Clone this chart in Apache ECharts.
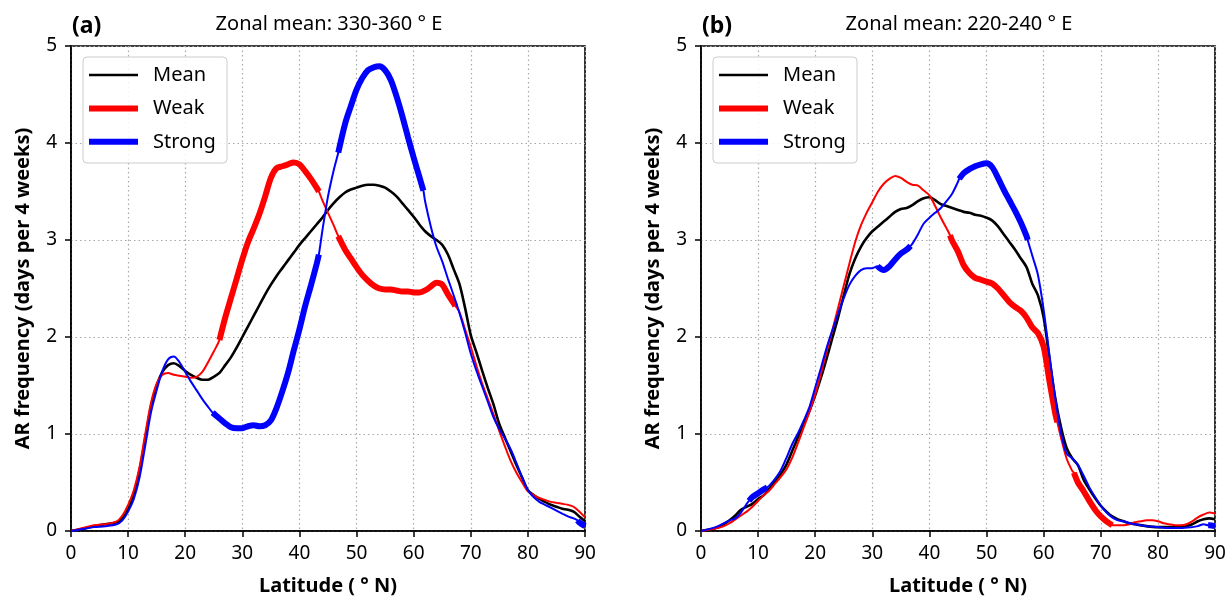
<!DOCTYPE html>
<html>
<head>
<meta charset="utf-8">
<script src="https://cdn.jsdelivr.net/npm/echarts@6/dist/echarts.min.js"></script>
<style>
html,body{margin:0;padding:0;background:#fff;}
#chart{width:1232px;height:600px;}
</style>
</head>
<body>
<div id="chart"></div>
<script>
// ---------- DATA (latitude °N, AR frequency in days per 4 weeks) ----------
const panelTitles = ['Zonal mean: 330-360 ° E', 'Zonal mean: 220-240 ° E'];
const panelLetters = ['(a)', '(b)'];
const seriesNames = ['Mean', 'Weak', 'Strong'];

// Panel (a) 330-360°E
const aMean = [[0,0],[2,0.02],[4,0.05],[6,0.07],[8,0.09],[9,0.13],[10,0.22],[11,0.38],[12,0.62],[13,0.95],[14,1.28],[15,1.5],[16,1.64],[17,1.71],[18,1.73],[19,1.70],[20,1.65],[21,1.61],[22,1.58],[23,1.56],[24,1.56],[25,1.59],[26,1.63],[27,1.71],[28,1.79],[29,1.89],[30,2.0],[31,2.11],[32,2.22],[33,2.33],[34,2.44],[35,2.54],[36,2.63],[37,2.71],[38,2.79],[39,2.87],[40,2.95],[41,3.02],[42,3.09],[43,3.16],[44,3.23],[45,3.31],[46,3.38],[47,3.44],[48,3.49],[49,3.52],[50,3.54],[51,3.56],[52,3.57],[53,3.57],[54,3.56],[55,3.54],[56,3.5],[57,3.45],[58,3.38],[59,3.31],[60,3.24],[61,3.16],[62,3.09],[63,3.04],[64,3.0],[65,2.95],[66,2.85],[67,2.7],[68,2.55],[69,2.3],[70,2.02],[71,1.84],[72,1.65],[73,1.47],[74,1.3],[75,1.1],[76,0.96],[77,0.82],[78,0.68],[79,0.55],[80,0.42],[81,0.37],[82,0.33],[83,0.3],[84,0.27],[85,0.25],[86,0.23],[87,0.22],[88,0.2],[89,0.15],[90,0.1]];
const aWeak = [[0,0],[2,0.03],[4,0.06],[6,0.07],[8,0.1],[9,0.16],[10,0.27],[11,0.42],[12,0.66],[13,1.0],[14,1.32],[15,1.52],[16,1.61],[17,1.63],[18,1.61],[19,1.6],[20,1.59],[21,1.58],[22,1.59],[23,1.64],[24,1.74],[25,1.85],[26,1.97],[27,2.2],[28,2.4],[29,2.6],[30,2.8],[31,2.98],[32,3.12],[33,3.27],[34,3.45],[35,3.64],[36,3.74],[37,3.76],[38,3.78],[39,3.8],[40,3.78],[41,3.71],[42,3.63],[43,3.54],[43.4,3.5],[44,3.41],[45,3.28],[46,3.15],[46.8,3.04],[48,2.9],[49,2.81],[50,2.72],[51,2.64],[52,2.58],[53,2.53],[54,2.5],[55,2.49],[56,2.49],[57,2.48],[58,2.47],[59,2.47],[60,2.46],[61,2.46],[62,2.48],[63,2.52],[64,2.56],[65,2.54],[66,2.44],[67,2.35],[67.3,2.32],[68,2.26],[69,2.08],[70,1.9],[71,1.7],[72,1.52],[73,1.36],[74,1.2],[75,1.03],[76,0.87],[77,0.72],[78,0.6],[79,0.5],[80,0.41],[81,0.37],[82,0.34],[83,0.32],[84,0.3],[85,0.29],[86,0.28],[87,0.27],[88,0.25],[89,0.2],[90,0.14]];
const aStrong = [[0,0],[2,0.02],[4,0.04],[6,0.05],[8,0.07],[9,0.11],[10,0.2],[11,0.33],[12,0.55],[13,0.88],[14,1.22],[15,1.45],[16,1.65],[17,1.77],[18,1.8],[19,1.74],[20,1.64],[21,1.54],[22,1.45],[23,1.36],[24,1.28],[24.8,1.22],[26,1.16],[27,1.11],[28,1.07],[29,1.06],[30,1.06],[31,1.08],[32,1.09],[33,1.08],[34,1.09],[35,1.14],[36,1.27],[37,1.44],[38,1.63],[39,1.86],[40,2.08],[41,2.32],[42,2.53],[43,2.75],[43.4,2.85],[44,3.09],[45,3.45],[46,3.72],[46.8,3.9],[48,4.2],[49,4.38],[50,4.55],[51,4.67],[52,4.75],[53,4.78],[54,4.79],[55,4.75],[56,4.65],[57,4.48],[58,4.28],[59,4.06],[60,3.85],[61,3.65],[61.7,3.51],[62,3.4],[63,3.14],[64,2.93],[65,2.78],[66,2.6],[67,2.43],[68,2.25],[69,2.05],[70,1.83],[71,1.65],[72,1.49],[73,1.33],[74,1.17],[75,1.05],[76,0.95],[77,0.84],[78,0.7],[79,0.55],[80,0.42],[81,0.35],[82,0.3],[83,0.27],[84,0.24],[85,0.21],[86,0.18],[87,0.15],[88,0.13],[88.7,0.11],[89,0.09],[90,0.05]];
const aWeakSig = [[26,43.4],[46.8,67.3]];
const aStrongSig = [[24.8,43.4],[46.8,61.7],[88.7,90]];

// Panel (b) 220-240°E
const bMean = [[0,0],[2,0.02],[3,0.04],[4,0.07],[5,0.11],[6,0.16],[7,0.22],[8,0.25],[9,0.28],[10,0.33],[11,0.37],[12,0.44],[13,0.51],[14,0.59],[15,0.69],[16,0.83],[17,0.97],[18,1.1],[19,1.24],[20,1.4],[21,1.58],[22,1.78],[23,1.99],[24,2.2],[25,2.43],[26,2.65],[27,2.81],[28,2.93],[29,3.02],[30,3.09],[31,3.14],[32,3.19],[33,3.24],[34,3.29],[35,3.32],[36,3.33],[37,3.36],[38,3.4],[39,3.43],[40,3.44],[41,3.41],[42,3.37],[43,3.35],[44,3.33],[45,3.31],[46,3.29],[47,3.28],[48,3.26],[49,3.25],[50,3.23],[51,3.2],[52,3.14],[53,3.06],[54,2.98],[55,2.9],[56,2.81],[57,2.72],[58,2.55],[59,2.43],[60,2.2],[61,1.78],[62,1.38],[63,1.08],[64,0.86],[65,0.75],[66,0.68],[67,0.53],[68,0.43],[69,0.34],[70,0.26],[71,0.2],[72,0.15],[73,0.12],[74,0.1],[75,0.08],[76,0.07],[78,0.05],[80,0.04],[82,0.04],[84,0.04],[86,0.07],[87,0.1],[88,0.12],[89,0.13],[90,0.12]];
const bWeak = [[0,0],[2,0.02],[3,0.03],[4,0.05],[5,0.08],[6,0.12],[7,0.16],[8,0.2],[9,0.25],[10,0.31],[11,0.37],[12,0.42],[13,0.49],[14,0.56],[15,0.64],[16,0.76],[17,0.91],[18,1.07],[19,1.23],[20,1.41],[21,1.62],[22,1.85],[23,2.07],[24,2.3],[25,2.53],[26,2.76],[27,2.98],[28,3.15],[29,3.28],[30,3.39],[31,3.5],[32,3.58],[33,3.63],[34,3.66],[35,3.64],[36,3.6],[37,3.57],[38,3.56],[39,3.51],[40,3.46],[41,3.35],[42,3.23],[43,3.12],[43.6,3.05],[44,2.99],[45,2.88],[46,2.74],[47,2.66],[48,2.61],[49,2.59],[50,2.57],[51,2.55],[52,2.5],[53,2.43],[54,2.36],[55,2.31],[56,2.27],[57,2.2],[58,2.1],[59,2.04],[60,1.9],[61,1.55],[62,1.22],[62.4,1.12],[63,0.97],[64,0.75],[65,0.62],[65.3,0.6],[66,0.5],[67,0.41],[68,0.31],[69,0.22],[70,0.15],[71,0.1],[72,0.06],[73,0.06],[74,0.06],[75,0.07],[76,0.09],[77,0.1],[78,0.11],[79,0.11],[80,0.1],[81,0.08],[82,0.07],[83,0.06],[84,0.06],[85,0.07],[86,0.1],[87,0.14],[88,0.17],[89,0.19],[90,0.18]];
const bStrong = [[0,0],[2,0.03],[3,0.05],[4,0.08],[5,0.11],[6,0.13],[7,0.19],[8,0.28],[8.4,0.31],[9,0.35],[10,0.39],[11,0.43],[11.6,0.45],[12,0.47],[13,0.54],[14,0.63],[15,0.76],[16,0.9],[17,1.01],[18,1.14],[19,1.28],[20,1.48],[21,1.68],[22,1.89],[23,2.07],[24,2.24],[25,2.4],[26,2.54],[27,2.63],[28,2.69],[29,2.71],[30,2.71],[30.9,2.73],[32,2.69],[33,2.73],[34,2.8],[35,2.86],[36,2.9],[36.7,2.94],[37,2.96],[38,3.06],[39,3.17],[40,3.23],[41,3.28],[42,3.33],[43,3.4],[44,3.48],[45,3.6],[45.2,3.63],[46,3.69],[47,3.73],[48,3.76],[49,3.78],[50,3.79],[51,3.75],[52,3.64],[53,3.52],[54,3.41],[55,3.3],[56,3.18],[57,3.04],[57.2,3.0],[58,2.84],[59,2.64],[60,2.28],[61,1.82],[62,1.38],[63,1.02],[64,0.8],[65,0.75],[66,0.68],[67,0.57],[68,0.45],[69,0.35],[70,0.26],[71,0.19],[72,0.14],[73,0.11],[74,0.1],[75,0.08],[76,0.07],[77,0.06],[78,0.05],[80,0.04],[82,0.03],[84,0.03],[86,0.04],[87,0.05],[88,0.07],[88.8,0.06],[89,0.06],[90,0.05]];
const bWeakSig = [[43.6,62.4],[65.3,72]];
const bStrongSig = [[8.4,11.6],[30.9,36.7],[45.2,57.2],[88.8,90]];

// ---------- CHART ----------
const FONT = '"Noto Sans", "DejaVu Sans", sans-serif';
const COLORS = {Mean: '#000000', Weak: '#ff0000', Strong: '#0000ff'};
const WIDTHS = {Mean: 2.6, Weak: 6, Strong: 6};
const chart = echarts.init(document.getElementById('chart'), null, {renderer: 'canvas'});

function sig(data, ranges) {
  return data.map(([x, y]) => ranges.some(([a, b]) => x >= a - 1e-9 && x <= b + 1e-9) ? [x, y] : [x, '-']);
}
function line(name, data, color, width, idx, z) {
  return {
    type: 'line', name: name, data: data, xAxisIndex: idx, yAxisIndex: idx,
    symbol: 'none', smooth: 0.3, connectNulls: false, z: z,
    lineStyle: {color: color, width: width}, itemStyle: {color: color},
    emphasis: {disabled: true}, silent: true, animation: false
  };
}

const lefts = [71, 701];
const W = 514, TOP = 46, H = 485;

const grids = lefts.map(l => ({left: l, top: TOP, width: W, height: H, show: true,
  borderColor: '#000', borderWidth: 1.6, backgroundColor: 'transparent', containLabel: false}));

const gridLine = {show: true, lineStyle: {color: '#a8a8a8', width: 1.2, type: [1.5, 3]}};
const xAxes = lefts.map((l, i) => ({
  type: 'value', gridIndex: i, min: 0, max: 90, interval: 10,
  axisLine: {show: true, lineStyle: {color: '#000', width: 1.6}},
  axisTick: {show: true, inside: false, length: 6, lineStyle: {color: '#000', width: 1.5}},
  axisLabel: {color: '#000', fontSize: 19, fontFamily: FONT, margin: 13},
  splitLine: gridLine
}));
const yAxes = lefts.map((l, i) => ({
  type: 'value', gridIndex: i, min: 0, max: 5, interval: 1,
  axisLine: {show: true, lineStyle: {color: '#000', width: 1.6}},
  axisTick: {show: true, inside: false, length: 6, lineStyle: {color: '#000', width: 1.5}},
  axisLabel: {color: '#000', fontSize: 19, fontFamily: FONT, margin: 14},
  splitLine: gridLine
}));

const panels = [
  {mean: aMean, weak: aWeak, strong: aStrong, weakSig: aWeakSig, strongSig: aStrongSig},
  {mean: bMean, weak: bWeak, strong: bStrong, weakSig: bWeakSig, strongSig: bStrongSig}
];
const series = [];
panels.forEach((p, i) => {
  series.push(line('Mean', p.mean, COLORS.Mean, WIDTHS.Mean, i, 3));
  series.push(line('Weak (all)', p.weak, COLORS.Weak, 2, i, 4));
  series.push(line('Weak', sig(p.weak, p.weakSig), COLORS.Weak, 6, i, 5));
  series.push(line('Strong (all)', p.strong, COLORS.Strong, 2, i, 6));
  series.push(line('Strong', sig(p.strong, p.strongSig), COLORS.Strong, 6, i, 7));
});

const graphics = [];
lefts.forEach((l, i) => {
  graphics.push({type: 'text', x: l + 1, y: 26, silent: true, z: 10,
    style: {text: panelLetters[i], fill: '#000', font: 'bold 23px ' + FONT, align: 'left', verticalAlign: 'middle', textAlign: 'left', textVerticalAlign: 'middle'}});
  graphics.push({type: 'text', x: l + W / 2 + 1, y: 24, silent: true, z: 10,
    style: {text: panelTitles[i], fill: '#000', font: '20px ' + FONT, align: 'center', verticalAlign: 'middle', textAlign: 'center', textVerticalAlign: 'middle'}});
  graphics.push({type: 'text', x: l + W / 2, y: 586, silent: true, z: 10,
    style: {text: 'Latitude ( ° N)', fill: '#000', font: 'bold 20px ' + FONT, align: 'center', verticalAlign: 'middle', textAlign: 'center', textVerticalAlign: 'middle'}});
  graphics.push({type: 'text', x: l - 48, y: TOP + H / 2, rotation: Math.PI / 2, silent: true, z: 10,
    style: {text: 'AR frequency (days per 4 weeks)', fill: '#000', font: 'bold 20px ' + FONT, align: 'center', verticalAlign: 'middle', textAlign: 'center', textVerticalAlign: 'middle'}});
  // legend box
  graphics.push({type: 'rect', silent: true, z: 20,
    shape: {x: l + 12, y: TOP + 11, width: 144, height: 106, r: 4},
    style: {fill: 'rgba(255,255,255,0.85)', stroke: '#cccccc', lineWidth: 1}});
  seriesNames.forEach((n, k) => {
    const yy = TOP + 29 + k * 33.4;
    graphics.push({type: 'line', silent: true, z: 21,
      shape: {x1: l + 18, y1: yy, x2: l + 67, y2: yy},
      style: {stroke: COLORS[n], lineWidth: WIDTHS[n]}});
    graphics.push({type: 'text', x: l + 82, y: yy, silent: true, z: 21,
      style: {text: n, fill: '#000', font: '20px ' + FONT, align: 'left', verticalAlign: 'middle', textAlign: 'left', textVerticalAlign: 'middle'}});
  });
});

chart.setOption({
  backgroundColor: '#ffffff',
  animation: false,
  grid: grids,
  xAxis: xAxes,
  yAxis: yAxes,
  series: series,
  graphic: graphics
});
</script>
</body>
</html>
